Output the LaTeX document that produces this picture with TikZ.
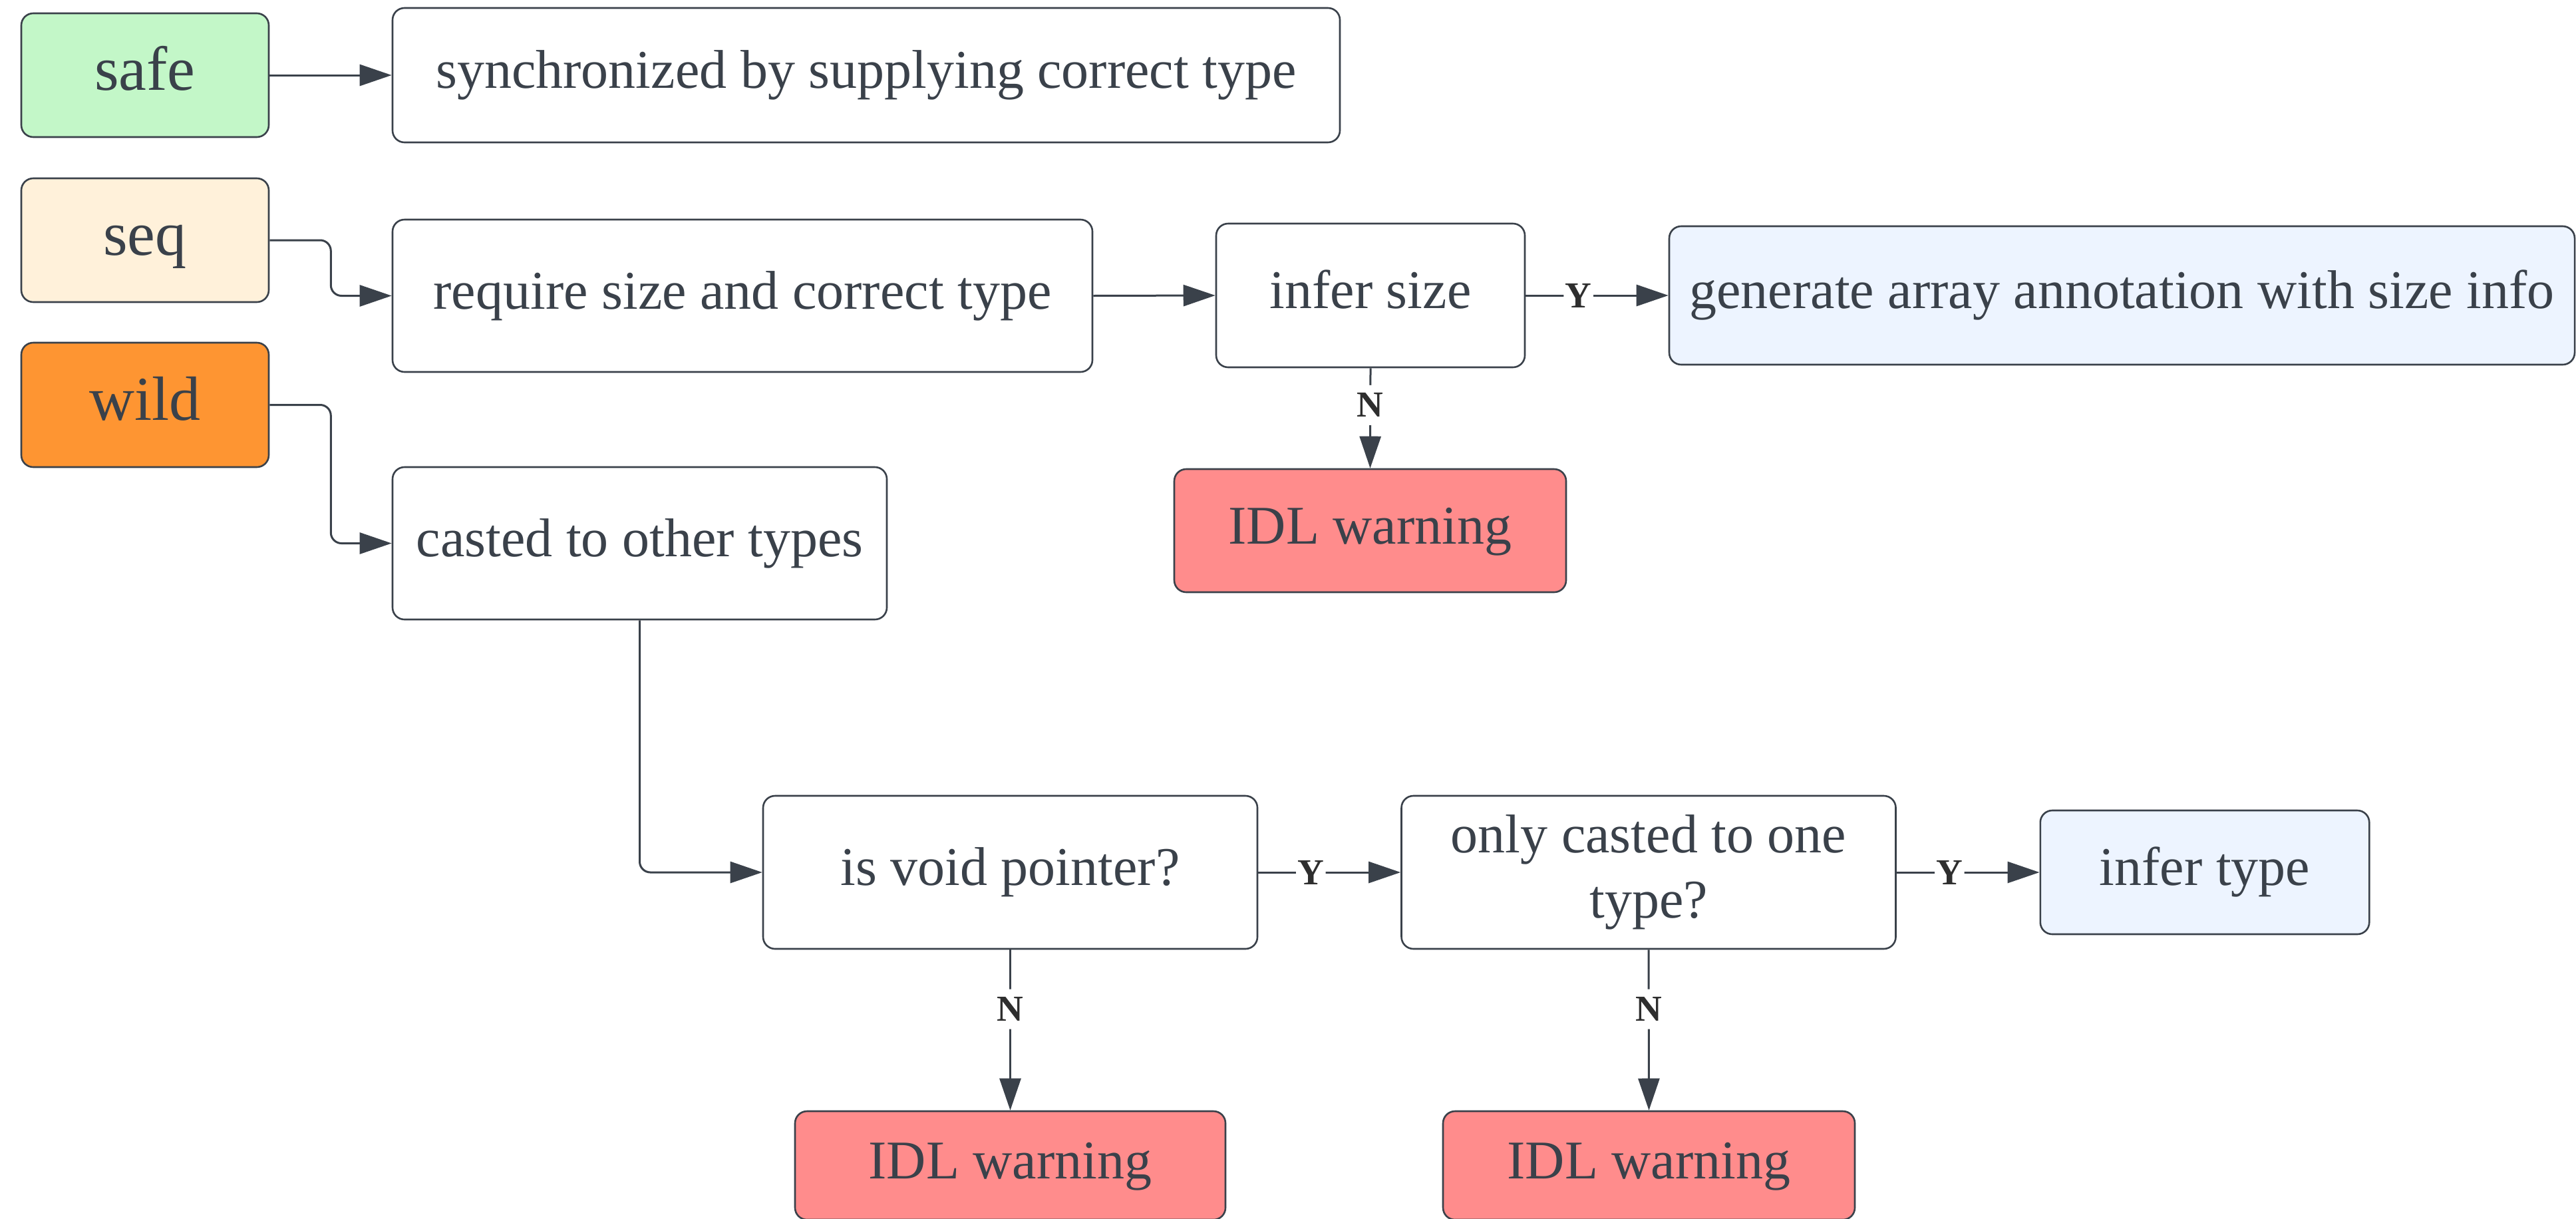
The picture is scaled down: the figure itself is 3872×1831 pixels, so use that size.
\documentclass[tikz,border=0pt]{standalone}
\usepackage{fontspec}
\setmainfont{Liberation Serif}
\usetikzlibrary{arrows.meta}
\definecolor{ink}{HTML}{3A414A}
\definecolor{lbl}{HTML}{2E2E2E}
\definecolor{safefill}{HTML}{C3F7C8}
\definecolor{seqfill}{HTML}{FFF1DA}
\definecolor{wildfill}{HTML}{FE9532}
\definecolor{warnfill}{HTML}{FF8C8C}
\definecolor{okfill}{HTML}{EDF4FF}

\tikzset{
  box/.style={draw=ink, line width=0.65pt, rounded corners=4.5pt, fill=white,
    text=ink, font=\fontsize{20.5}{24.6}\selectfont, align=center, inner sep=0pt},
  kind/.style={box, font=\fontsize{23.5}{28.2}\selectfont},
  wh/.style 2 args={minimum width=#1*0.25pt, minimum height=#2*0.25pt},
  link/.style={draw=ink, line width=0.75pt, -{Triangle[length=12pt,width=8pt]},
    rounded corners=4pt},
  yn/.style={fill=white, text=lbl, font=\fontsize{13.75}{16}\selectfont\bfseries,
    inner xsep=0.6pt, inner ysep=3pt, pos=0.37}
}

\begin{document}
\begin{tikzpicture}[x=0.25pt, y=-0.25pt]

% canvas
\path[use as bounding box, fill=white] (0,0) rectangle (3872,1831);
\clip (0,0) rectangle (3872,1831);

% pointer kinds
\node[kind, wh={372}{186}, fill=safefill] (safe) at (218,113) {\strut safe};
\node[kind, wh={372}{186}, fill=seqfill]  (seq)  at (218,361) {\strut seq};
\node[kind, wh={372}{187}, fill=wildfill] (wild) at (218,608.5) {\strut wild};

% handling steps
\node[box, wh={1424}{202}] (synch) at (1302,113)
  {\strut synchronized by supplying correct type};
\node[box, wh={1052}{229}] (require) at (1116,444.5)
  {\strut require size and correct type};
\node[box, wh={743}{229}] (casted) at (961.5,816.5)
  {\strut casted to other types};
\node[box, wh={464}{216}] (isize) at (2060,444) {\strut infer size};
\node[box, wh={1361}{208}, fill=okfill] (gen) at (3189.5,444)
  {\strut generate array annotation with size info};
\node[box, wh={589}{185}, fill=warnfill] (warn1) at (2059.5,797.5)
  {\strut IDL warning};
\node[box, wh={743}{230}] (void) at (1518.5,1311) {\strut is void pointer?};
\node[box, wh={743}{230}] (only) at (2478,1311)
  {\strut only casted to one\\\strut type?};
\node[box, wh={494.5}{186}, fill=okfill] (itype) at (3314,1311)
  {\strut infer type};
\node[box, wh={647}{163}, fill=warnfill] (warn2) at (1518.5,1751.5)
  {\strut IDL warning};
\node[box, wh={619}{163}, fill=warnfill] (warn3) at (2478.5,1751.5)
  {\strut IDL warning};

% connectors
\draw[link] (safe.east) -- (synch.west);
\draw[link] (seq.east) -- ++(92,0) |- (require.west);
\draw[link] (wild.east) -- ++(92,0) |- (casted.west);
\draw[link] (require.east) -- (isize.west);
\draw[link] (isize.east) -- node[yn] (y1) {Y} (gen.west);
\draw[link] (isize.south) -- node[yn] (n1) {N} (warn1.north);
\draw[link] (casted.south) |- (void.west);
\draw[link] (void.east) -- node[yn] (y2) {Y} (only.west);
\draw[link] (only.east) -- node[yn] (y3) {Y} (itype.west);
\draw[link] (void.south) -- node[yn] (n2) {N} (warn2.north);
\draw[link] (only.south) -- node[yn] (n3) {N} (warn3.north);
\end{tikzpicture}
\end{document}
